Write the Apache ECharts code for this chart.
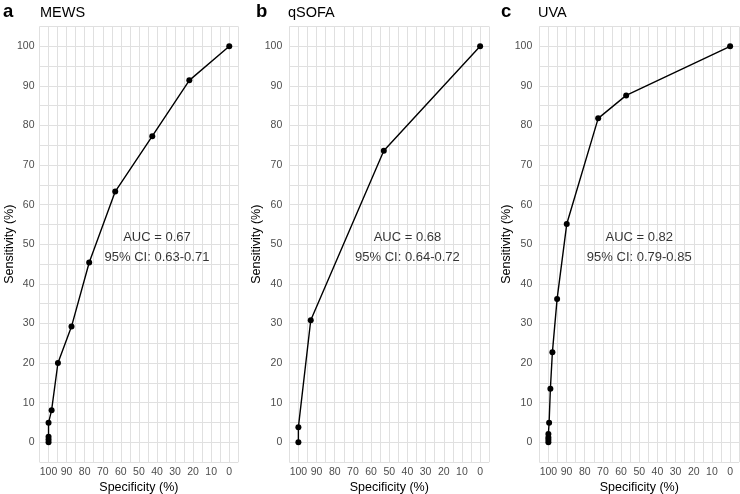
<!DOCTYPE html>
<html><head><meta charset="utf-8">
<script src="https://cdn.jsdelivr.net/npm/echarts@6/dist/echarts.min.js"></script>
<style>html,body{margin:0;padding:0;background:#fff}#c{width:740px;height:494px}</style>
</head><body><div id="c"></div>
<script>
const panelLetters = ['a', 'b', 'c'];
const panelNames = ['MEWS', 'qSOFA', 'UVA'];
const mewsSpec = [100, 100, 100, 100, 98.3, 94.8, 87.3, 77.5, 63.1, 42.6, 22.1, 0];
const mewsSens = [0, 0.7, 1.4, 4.9, 8.1, 20, 29.2, 45.4, 63.3, 77.3, 91.4, 100];
const qsofaSpec = [100, 100, 93.2, 53, 0];
const qsofaSens = [0, 3.8, 30.8, 73.6, 100];
const uvaSpec = [100, 100, 100, 100, 99.6, 98.9, 97.8, 95.2, 89.9, 72.6, 57.2, 0];
const uvaSens = [0, 0.6, 1.2, 2.1, 4.9, 13.5, 22.7, 36.2, 55.1, 81.8, 87.6, 100];
const aucText = ['AUC = 0.67\n95% CI: 0.63-0.71', 'AUC = 0.68\n95% CI: 0.64-0.72', 'AUC = 0.82\n95% CI: 0.79-0.85'];
const aucPos = [[40, 49.3], [40, 49.3], [50, 49.3]];
const xTitle = 'Specificity (%)';
const yTitle = 'Sensitivity (%)';

const specs = [mewsSpec, qsofaSpec, uvaSpec];
const sens = [mewsSens, qsofaSens, uvaSens];
const FONT = 'Liberation Sans, Arial, sans-serif';
const gridLefts = [39.5, 289.3, 539.3];
const gridWidths = [198.8, 199.9, 199.9];
const yLabelMargins = [5, 7, 7];
const yNameGaps = [23, 26, 26];

const grids = [], xAxes = [], yAxes = [], series = [], titles = [];
const tickFmt = v => (Math.abs(v % 10) < 1e-6 && v >= 0 && v <= 100) ? String(v) : '';
for (let i = 0; i < 3; i++) {
  grids.push({left: gridLefts[i], width: gridWidths[i], top: 26.5, height: 435.5, containLabel: false, outerBoundsMode: 'none'});
  xAxes.push({
    type: 'value', gridIndex: i, min: -5, max: 105, interval: 5, inverse: true,
    axisLine: {show: false}, axisTick: {show: false},
    axisLabel: {formatter: tickFmt, color: '#4d4d4d', fontSize: 10.5, fontFamily: FONT, margin: 5, showMinLabel: true, showMaxLabel: true},
    splitLine: {show: true, lineStyle: {color: '#e0e0e0', width: 1}},
    name: xTitle, nameLocation: 'middle', nameGap: 19, nameMoveOverlap: false,
    nameTextStyle: {color: '#000', fontSize: 12.5, fontFamily: FONT}
  });
  yAxes.push({
    type: 'value', gridIndex: i, min: -5, max: 105, interval: 5,
    axisLine: {show: false}, axisTick: {show: false},
    axisLabel: {formatter: tickFmt, color: '#4d4d4d', fontSize: 10.5, fontFamily: FONT, margin: yLabelMargins[i], showMinLabel: true, showMaxLabel: true},
    splitLine: {show: true, lineStyle: {color: '#e0e0e0', width: 1}},
    name: yTitle, nameLocation: 'middle', nameGap: yNameGaps[i], nameMoveOverlap: false,
    nameTextStyle: {color: '#000', fontSize: 12.5, fontFamily: FONT}
  });
  series.push({
    type: 'line', xAxisIndex: i, yAxisIndex: i,
    data: specs[i].map((s, k) => [s, sens[i][k]]),
    symbol: 'circle', symbolSize: 6, showSymbol: true,
    lineStyle: {color: '#000', width: 1.4}, itemStyle: {color: '#000'},
    animation: false, z: 3
  });
  series.push({
    type: 'scatter', xAxisIndex: i, yAxisIndex: i,
    data: [aucPos[i]], symbolSize: 0, silent: true, animation: false,
    label: {show: true, position: 'inside', formatter: aucText[i], color: '#000', fontSize: 13, fontFamily: FONT, lineHeight: 20, align: 'center', verticalAlign: 'middle'}
  });
  titles.push({text: panelLetters[i], left: [3, 256, 501][i], top: 2.5, padding: 0,
    textStyle: {fontSize: 18.5, fontWeight: 'bold', color: '#000', fontFamily: FONT}});
  titles.push({text: panelNames[i], left: [40, 288, 538][i], top: 5.5, padding: 0,
    textStyle: {fontSize: 14.5, fontWeight: 'normal', color: '#000', fontFamily: FONT}});
}
const chart = echarts.init(document.getElementById('c'), null, {renderer: 'canvas'});
chart.setOption({backgroundColor: '#fff', animation: false, title: titles, grid: grids, xAxis: xAxes, yAxis: yAxes, series: series});
</script></body></html>
